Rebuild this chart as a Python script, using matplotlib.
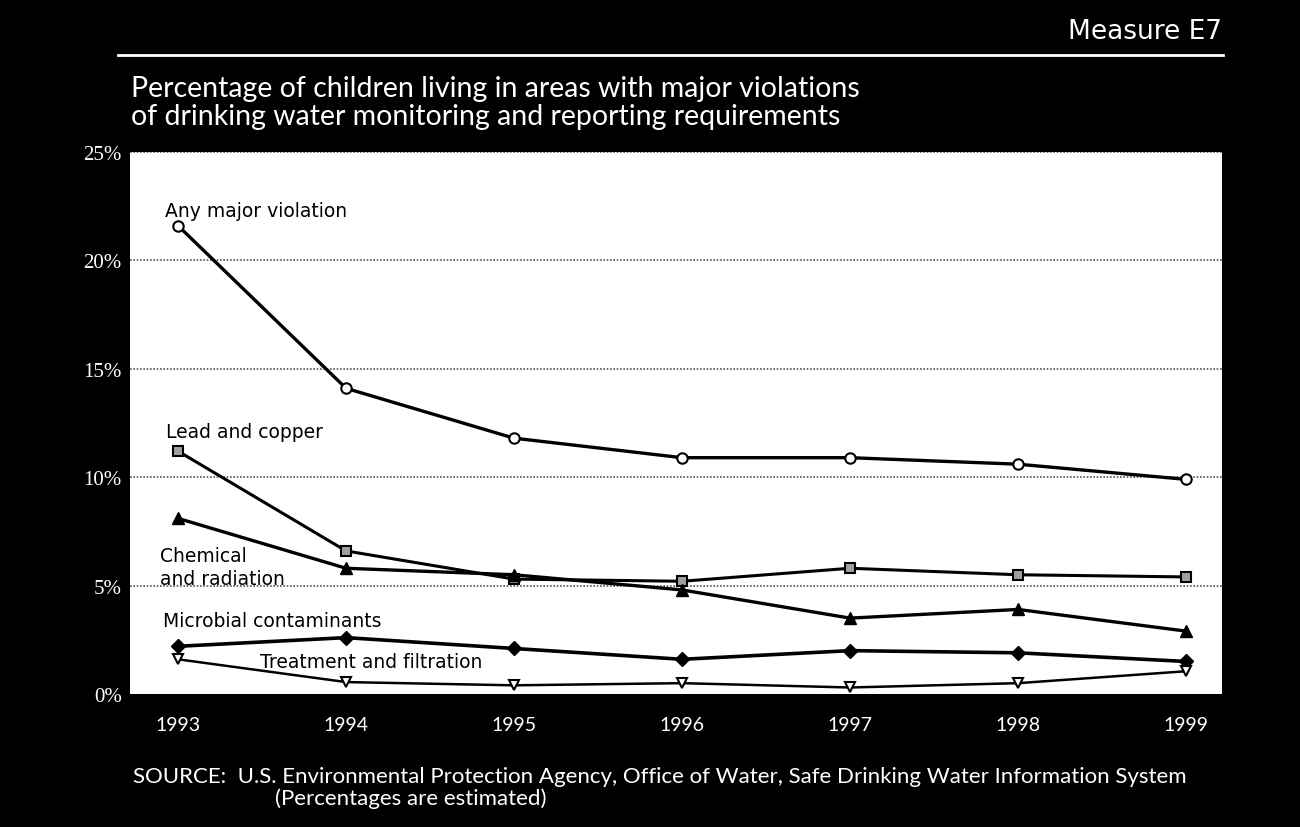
import matplotlib
matplotlib.use("Agg")
import matplotlib.pyplot as plt
from matplotlib.lines import Line2D

years = [1993, 1994, 1995, 1996, 1997, 1998, 1999]
any_major = [21.6, 14.1, 11.8, 10.9, 10.9, 10.6, 9.9]
lead_copper = [11.2, 6.6, 5.3, 5.2, 5.8, 5.5, 5.4]
chemical = [8.1, 5.8, 5.5, 4.8, 3.5, 3.9, 2.9]
microbial = [2.2, 2.6, 2.1, 1.6, 2.0, 1.9, 1.5]
treatment = [1.6, 0.55, 0.4, 0.5, 0.3, 0.5, 1.05]
y_ticks = [0, 5, 10, 15, 20, 25]

fig = plt.figure(figsize=(13, 8.28), dpi=100, facecolor='black')
ax = fig.add_axes([130 / 1300, 1 - 695 / 828, 1092 / 1300, 542 / 828])
ax.set_facecolor('white')

lab_font = ['DejaVu Sans']
title_font = ['Lato', 'DejaVu Sans']

# series
ax.plot(years, any_major, color='black', lw=2.4, marker='o', ms=7.5,
        mfc='white', mec='black', mew=1.5, zorder=5)
ax.plot(years, lead_copper, color='black', lw=2.2, marker='s', ms=7.5,
        mfc='#a0a0a0', mec='black', mew=1.5, zorder=5)
ax.plot(years, chemical, color='black', lw=2.4, marker='^', ms=8.5,
        mfc='black', mec='black', zorder=5)
ax.plot(years, microbial, color='black', lw=2.6, marker='D', ms=7.5,
        mfc='black', mec='black', zorder=5)
ax.plot(years, treatment, color='black', lw=1.8, marker='v', ms=7.5,
        mfc='white', mec='black', mew=1.5, zorder=5)

# line labels
ax.text(1992.92, 22.3, 'Any major violation', fontsize=13.5, family=lab_font, va='center')
ax.text(1992.93, 12.1, 'Lead and copper', fontsize=13.5, family=lab_font, va='center')
ax.text(1992.89, 5.85, 'Chemical\nand radiation', fontsize=13.5, family=lab_font,
        va='center', linespacing=1.3)
ax.text(1992.91, 3.4, 'Microbial contaminants', fontsize=13.5, family=lab_font, va='center')
ax.text(1993.49, 1.5, 'Treatment and filtration', fontsize=13.5, family=lab_font, va='center')

ax.set_xlim(1992.714, 1999.214)
ax.set_ylim(0, 25)
ax.set_xticks(years)
ax.set_xticklabels([str(y) for y in years], fontsize=14, color='white', family=title_font)
ax.set_yticks(y_ticks)
ax.set_yticklabels([f'{v}%' for v in y_ticks], fontsize=15, color='white',
                   family=['Liberation Serif'])
ax.tick_params(length=0, pad=6)
ax.tick_params(axis='x', pad=16)
for v in y_ticks[1:]:
    ax.axhline(v, color='#555555', lw=1.2, ls=(0, (1, 1)), zorder=1)
for s in ax.spines.values():
    s.set_visible(False)

# header
fig.text(1222 / 1300, 1 - 32 / 828, 'Measure E7', color='white', fontsize=19,
         family=lab_font, ha='right', va='center')
fig.add_artist(Line2D([118 / 1300, 1223 / 1300], [1 - 56 / 828, 1 - 56 / 828],
                      color='white', lw=2))
fig.text(131 / 1300, 1 - 103 / 828,
         'Percentage of children living in areas with major violations\n'
         'of drinking water monitoring and reporting requirements',
         color='white', fontsize=20.5, family=title_font, ha='left', va='center',
         linespacing=1.08)

# source
fig.text(133 / 1300, 1 - 777 / 828,
         'SOURCE:  U.S. Environmental Protection Agency, Office of Water, '
         'Safe Drinking Water Information System',
         color='white', fontsize=16, family=title_font, va='center')
fig.text(275 / 1300, 1 - 799 / 828, '(Percentages are estimated)',
         color='white', fontsize=16, family=title_font, va='center')

fig.savefig('out.png', facecolor='black')
